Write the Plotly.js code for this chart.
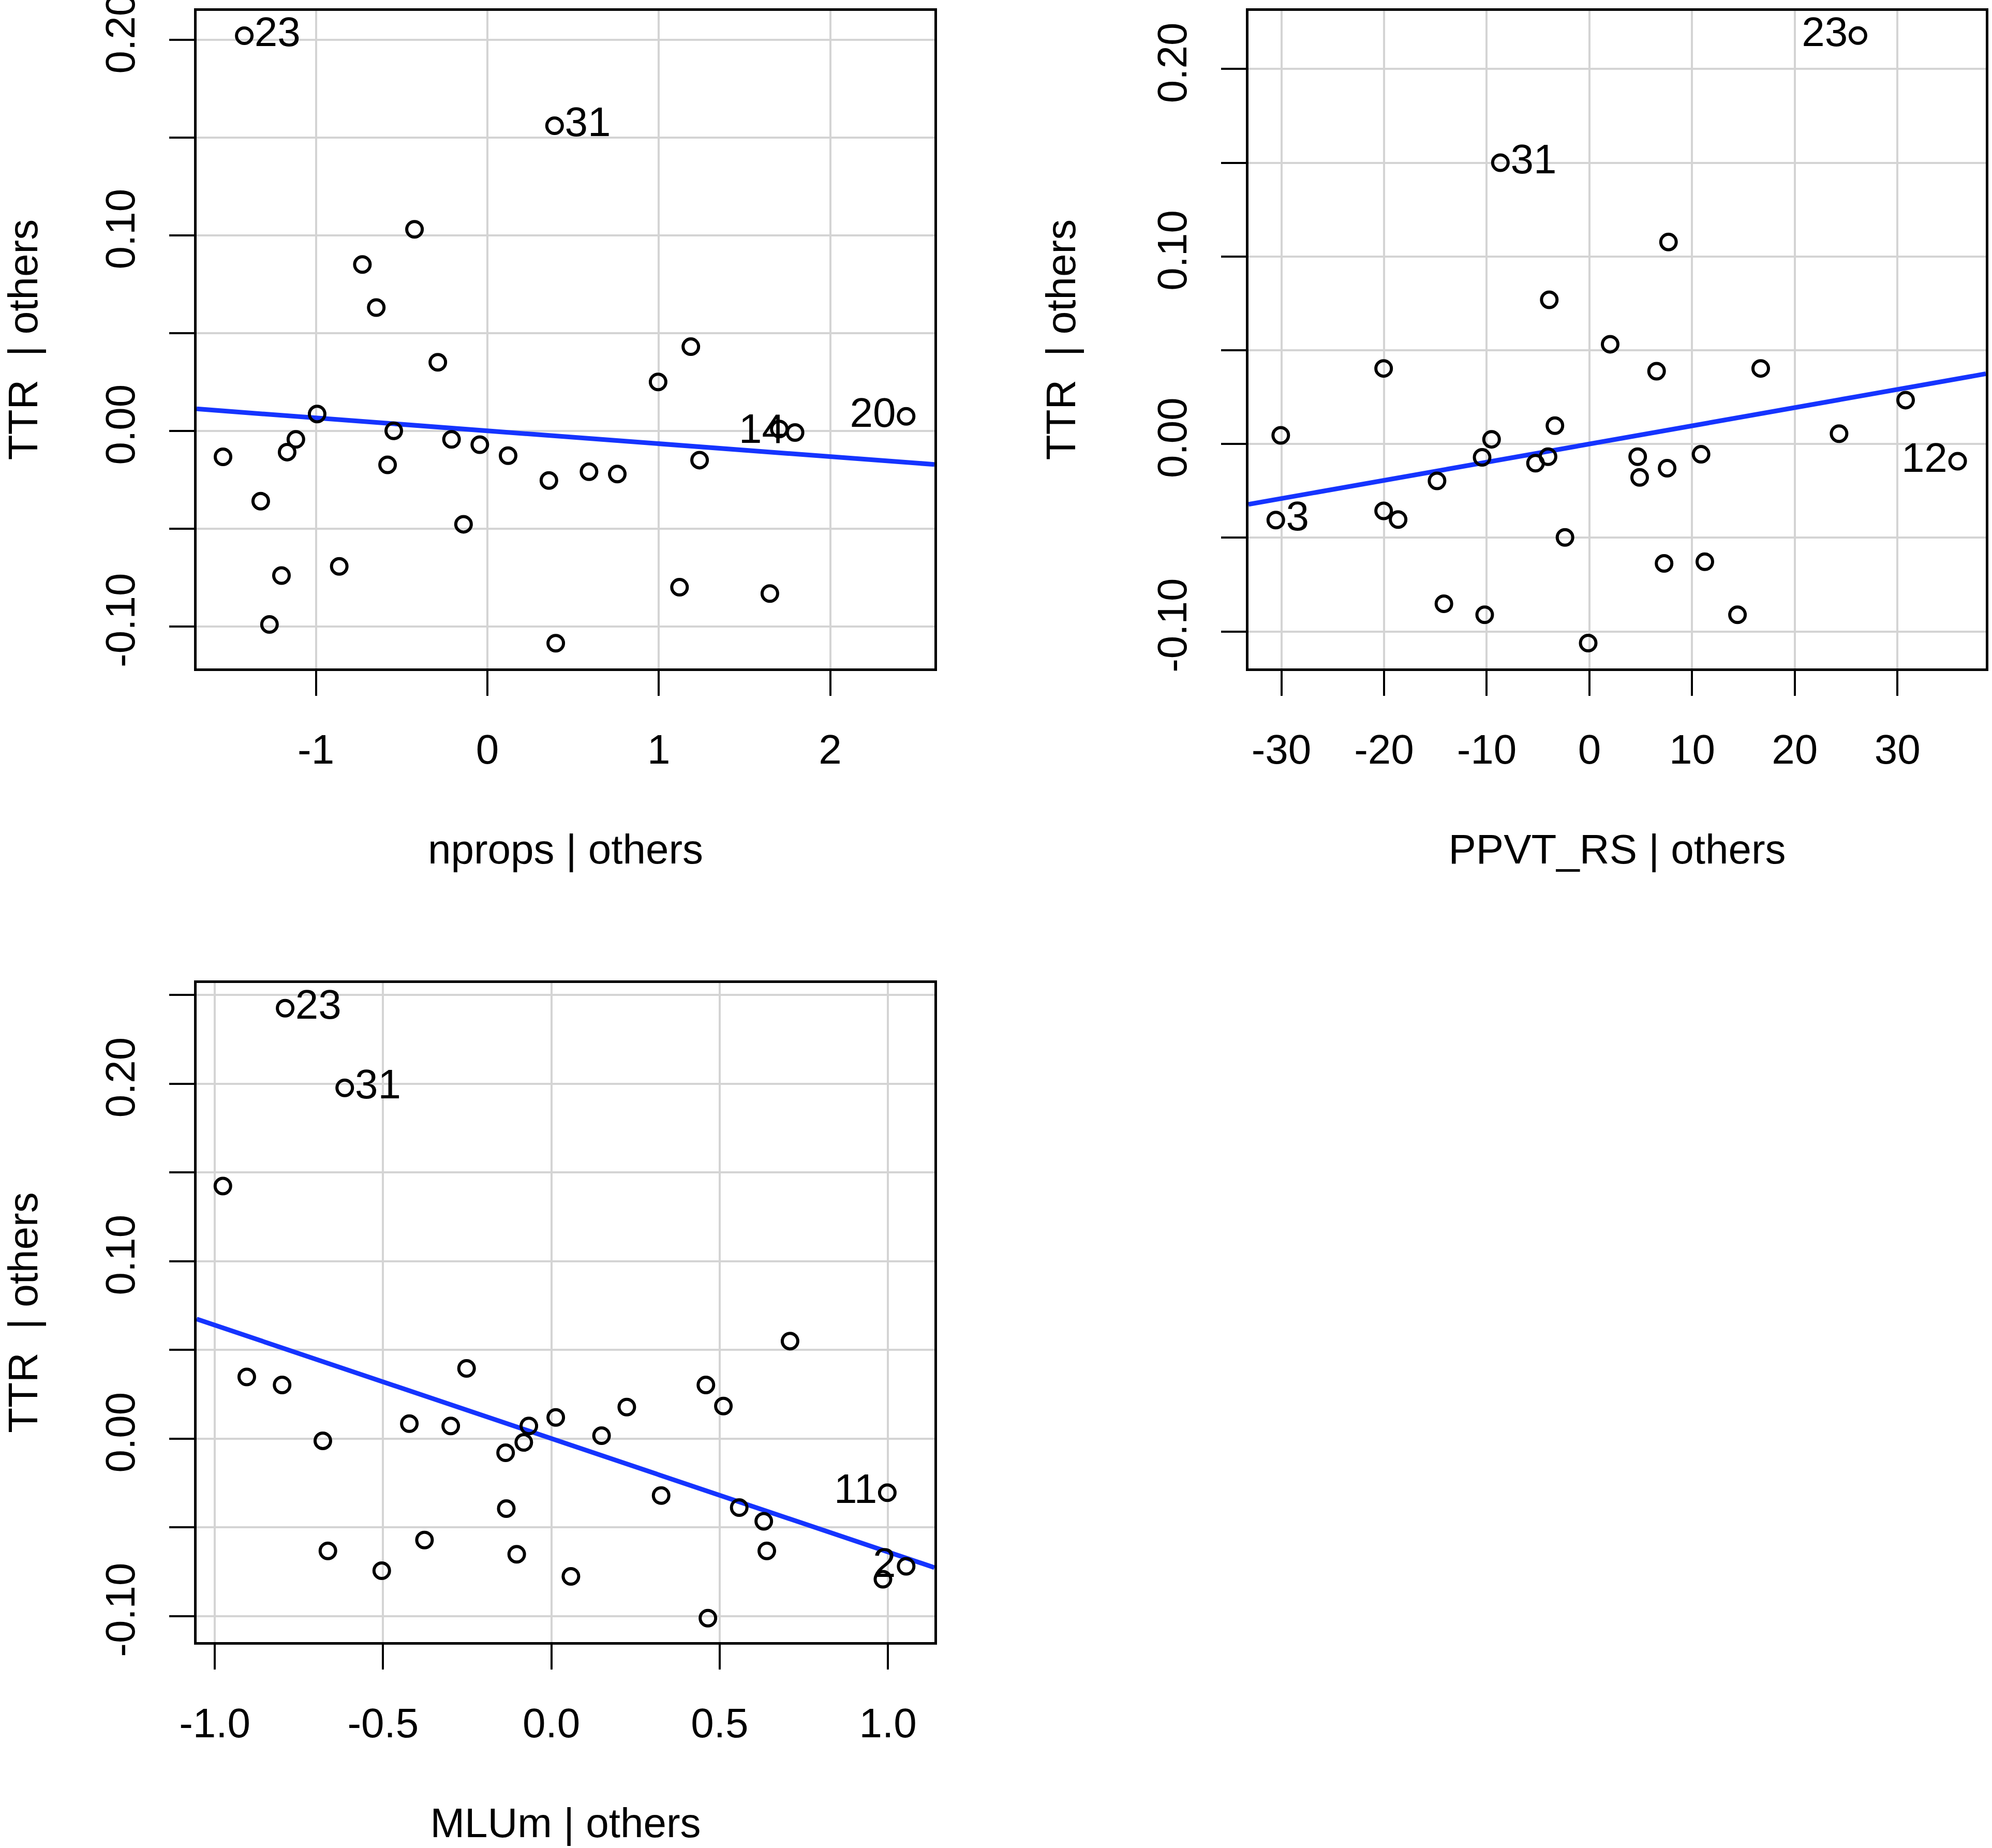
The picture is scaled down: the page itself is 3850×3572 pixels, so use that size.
<!DOCTYPE html>
<html>
<head>
<meta charset="utf-8">
<script src="https://cdn.plot.ly/plotly-3.0.1.min.js"></script>
<style>html,body{margin:0;padding:0;background:#fff;}#chart{width:3850px;height:3572px;}</style>
</head>
<body>
<div id="chart"></div>
<script>
// ---------- Panel 1: nprops | others ----------
var nprops_x = [-1.418, 0.392, -0.425, -0.729, -0.648, -0.289, 1.187, 0.996, -0.993, 2.443, 1.703, 1.795, -0.546, -1.117, -0.209, -0.044, -1.168, -1.542, 0.121, 1.238, -0.582, 0.593, 0.758, 0.359, -1.322, -0.139, -0.864, -1.201, 1.121, 1.648, -1.271, 0.399];
var nprops_y = [0.202, 0.156, 0.103, 0.085, 0.063, 0.035, 0.043, 0.025, 0.0086, 0.0074, 0.0009, -0.0009, 0.000, -0.0044, -0.0044, -0.0071, -0.0109, -0.0133, -0.0127, -0.0150, -0.0174, -0.0209, -0.0221, -0.0254, -0.036, -0.0478, -0.0693, -0.074, -0.080, -0.0832, -0.099, -0.1086];
var nprops_labels = ['23','31','','','','','','','','20','','14','','','','','','','','','','','','','','','','','','','',''];
var nprops_labelSide = ['right','right','','','','','','','','left','','left','','','','','','','','','','','','','','','','','','','',''];
var nprops_fit = {intercept: 0.0, slope: -0.0066};

// ---------- Panel 2: PPVT_RS | others ----------
var ppvt_x = [26.15, -8.67, 7.70, -3.91, 2.02, -20.04, 6.54, 16.68, 30.79, -30.06, -3.36, -9.53, 24.31, -10.45, -4.03, -5.25, 4.70, 10.87, 7.57, 4.89, 35.86, -14.84, -20.04, -18.63, -30.54, -2.38, 7.27, 11.24, -14.17, -10.20, 14.42, -0.12];
var ppvt_y = [0.2178, 0.150, 0.1077, 0.0769, 0.0532, 0.0403, 0.0388, 0.0403, 0.0234, 0.0046, 0.0098, 0.0025, 0.0055, -0.0071, -0.0068, -0.0102, -0.0068, -0.0055, -0.0129, -0.0178, -0.0092, -0.0197, -0.0357, -0.0403, -0.0406, -0.0498, -0.0637, -0.0628, -0.0852, -0.0911, -0.0911, -0.1062];
var ppvt_labels = ['23','31','','','','','','','','','','','','','','','','','','','12','','','','3','','','','','','',''];
var ppvt_labelSide = ['left','right','','','','','','','','','','','','','','','','','','','left','','','','right','','','','','','',''];
var ppvt_fit = {intercept: 0.0, slope: 0.00097};

// ---------- Panel 3: MLUm | others ----------
var mlum_x = [-0.791, -0.614, -0.976, 0.709, -0.252, -0.905, -0.800, 0.459, 0.511, 0.224, 0.013, -0.422, -0.299, -0.067, 0.149, -0.679, -0.082, -0.136, 0.326, 0.998, 0.558, -0.134, 0.631, -0.377, -0.664, 0.640, -0.103, 1.054, -0.504, 0.985, 0.058, 0.465];
var mlum_y = [0.2425, 0.1976, 0.1423, 0.0549, 0.0395, 0.0347, 0.0302, 0.0302, 0.0183, 0.0177, 0.0119, 0.0084, 0.0071, 0.0071, 0.0016, -0.0013, -0.0022, -0.0080, -0.0321, -0.0305, -0.0389, -0.0395, -0.0466, -0.0572, -0.0633, -0.0633, -0.0652, -0.0720, -0.0745, -0.0793, -0.0777, -0.1012];
var mlum_labels = ['23','31','','','','','','','','','','','','','','','','','','11','','','','','','','','2','','','',''];
var mlum_labelSide = ['right','right','','','','','','','','','','','','','','','','','','left','','','','','','','','left','','','',''];
var mlum_fit = {intercept: 0.0, slope: -0.0639};

// ---------- Axis titles and ticks ----------
var yTitle = 'TTR\u00a0 | others';
var xTitles = ['nprops | others', 'PPVT_RS | others', 'MLUm | others'];
var x1Ticks = [-1, 0, 1, 2];
var x1TickText = ['-1', '0', '1', '2'];
var x2Ticks = [-30, -20, -10, 0, 10, 20, 30];
var x2TickText = ['-30', '-20', '-10', '0', '10', '20', '30'];
var x3Ticks = [-1.0, -0.5, 0.0, 0.5, 1.0];
var x3TickText = ['-1.0', '-0.5', '0.0', '0.5', '1.0'];
var y12Ticks = [-0.10, -0.05, 0.00, 0.05, 0.10, 0.15, 0.20];
var y12TickText = ['-0.10', '', '0.00', '', '0.10', '', '0.20'];
var y3Ticks = [-0.10, -0.05, 0.00, 0.05, 0.10, 0.15, 0.20, 0.25];
var y3TickText = ['-0.10', '', '0.00', '', '0.10', '', '0.20', ''];

// ---------- Style ----------
var FONT = 'Liberation Sans, Arial, Helvetica, sans-serif';
var FS = 80;
var LINE_BLUE = '#1534ff';

var ranges = {
  x1: [-1.696, 2.608], y1: [-0.1215, 0.2147],
  x2: [-33.2, 38.6],   y2: [-0.1197, 0.231],
  x3: [-1.054, 1.138], y3: [-0.1147, 0.2567]
};

function textPos(sides) {
  return sides.map(function (s) { return s === 'left' ? 'middle left' : 'middle right'; });
}

function pointsTrace(xs, ys, labels, sides, xa, ya) {
  return {
    type: 'scatter', mode: 'markers+text', x: xs, y: ys, xaxis: xa, yaxis: ya,
    text: labels, textposition: textPos(sides),
    textfont: {family: FONT, size: FS, color: '#000'},
    marker: {symbol: 'circle-open', size: 30, color: '#000', line: {width: 6, color: '#000'}},
    cliponaxis: false, hoverinfo: 'skip', showlegend: false
  };
}

function fitTrace(fit, xr, xa, ya) {
  var xs = [xr[0], xr[1]];
  var ys = xs.map(function (v) { return fit.intercept + fit.slope * v; });
  return {
    type: 'scatter', mode: 'lines', x: xs, y: ys, xaxis: xa, yaxis: ya,
    line: {color: LINE_BLUE, width: 9}, hoverinfo: 'skip', showlegend: false
  };
}

function xAxis(domain, range, vals, txt, title, anchor) {
  return {
    domain: domain, range: range, anchor: anchor, autorange: false,
    tickmode: 'array', tickvals: vals, ticktext: txt,
    ticks: 'outside', ticklen: 48, tickwidth: 4, tickcolor: '#000',
    ticklabelstandoff: 35, ticklabeloverflow: 'allow',
    tickfont: {family: FONT, size: FS, color: '#000'},
    showline: true, mirror: true, linewidth: 5, linecolor: '#000',
    showgrid: true, gridcolor: '#d4d4d4', gridwidth: 4, zeroline: false,
    title: {text: title, font: {family: FONT, size: FS, color: '#000'}, standoff: 122},
    automargin: false
  };
}

function yAxis(domain, range, vals, txt, title, anchor) {
  return {
    domain: domain, range: range, anchor: anchor, autorange: false,
    tickmode: 'array', tickvals: vals, ticktext: txt, tickangle: -90,
    ticks: 'outside', ticklen: 48, tickwidth: 4, tickcolor: '#000',
    ticklabelstandoff: 35, ticklabeloverflow: 'allow',
    tickfont: {family: FONT, size: FS, color: '#000'},
    showline: true, mirror: true, linewidth: 5, linecolor: '#000',
    showgrid: true, gridcolor: '#d4d4d4', gridwidth: 4, zeroline: false,
    title: {text: title, font: {family: FONT, size: FS, color: '#000'}, standoff: 118},
    automargin: false
  };
}

var W = 3850, H = 3572;
var colA = [380 / W, 1806 / W];
var colB = [2413 / W, 3838 / W];
var rowTop = [1 - 1292 / H, 1 - 21 / H];
var rowBot = [1 - 3174 / H, 1 - 1900 / H];

var data = [
  fitTrace(nprops_fit, ranges.x1, 'x', 'y'),
  pointsTrace(nprops_x, nprops_y, nprops_labels, nprops_labelSide, 'x', 'y'),
  fitTrace(ppvt_fit, ranges.x2, 'x2', 'y2'),
  pointsTrace(ppvt_x, ppvt_y, ppvt_labels, ppvt_labelSide, 'x2', 'y2'),
  fitTrace(mlum_fit, ranges.x3, 'x3', 'y3'),
  pointsTrace(mlum_x, mlum_y, mlum_labels, mlum_labelSide, 'x3', 'y3')
];

var layout = {
  width: W, height: H,
  margin: {l: 0, r: 0, t: 0, b: 0, pad: 0},
  paper_bgcolor: '#fff', plot_bgcolor: '#fff',
  font: {family: FONT, size: FS, color: '#000'},
  showlegend: false,
  xaxis: xAxis(colA, ranges.x1, x1Ticks, x1TickText, xTitles[0], 'y'),
  yaxis: yAxis(rowTop, ranges.y1, y12Ticks, y12TickText, yTitle, 'x'),
  xaxis2: xAxis(colB, ranges.x2, x2Ticks, x2TickText, xTitles[1], 'y2'),
  yaxis2: yAxis(rowTop, ranges.y2, y12Ticks, y12TickText, yTitle, 'x2'),
  xaxis3: xAxis(colA, ranges.x3, x3Ticks, x3TickText, xTitles[2], 'y3'),
  yaxis3: yAxis(rowBot, ranges.y3, y3Ticks, y3TickText, yTitle, 'x3')
};

Plotly.newPlot('chart', data, layout, {staticPlot: true, displayModeBar: false});
</script>
</body>
</html>
